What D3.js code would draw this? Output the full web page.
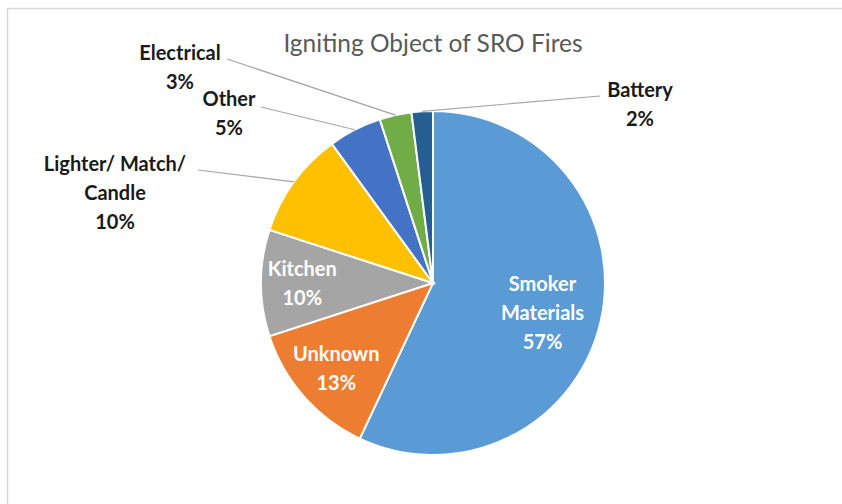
<!DOCTYPE html>
<html>
<head>
<meta charset="utf-8">
<script src="https://cdn.jsdelivr.net/npm/d3@7"></script>
<style>
  body { margin: 0; background: #fff; }
  text { font-family: Lato, "Open Sans", sans-serif; }
</style>
</head>
<body>
<script>
// chart data, in drawing order (clockwise from 12 o'clock)
var categories = ["Smoker Materials", "Unknown", "Kitchen", "Lighter/ Match/ Candle", "Other", "Electrical", "Battery"];
var values = [57, 13, 10, 10, 5, 3, 2];
var colors = ["#5b9bd5", "#ed7d31", "#a5a5a5", "#ffc000", "#4472c4", "#70ad47", "#255e91"];
// how each label is split into lines
var labelLines = [["Smoker", "Materials"], ["Unknown"], ["Kitchen"], ["Lighter/ Match/", "Candle"], ["Other"], ["Electrical"], ["Battery"]];

var width = 842, height = 504,
    cx = 433, cy = 283, radius = 172;

var svg = d3.select("body").append("svg").attr("width", width).attr("height", height);

// frame
svg.append("path")
   .attr("d", "M7.5," + height + "V8.5H" + width)
   .attr("fill", "none").attr("stroke", "#d9d9d9").attr("stroke-width", 1.5);

svg.append("text")
   .attr("x", cx).attr("y", 52)
   .attr("text-anchor", "middle")
   .attr("font-size", 24.5)
   .attr("fill", "#595959")
   .text("Igniting Object of SRO Fires");

var pie = d3.pie().sort(null).value(function (d) { return d; });
var arcs = pie(values);

var arc = d3.arc().innerRadius(0).outerRadius(radius);
var edgeArc = d3.arc().innerRadius(radius).outerRadius(radius);

var g = svg.append("g").attr("transform", "translate(" + cx + "," + cy + ")");

g.selectAll("path.slice")
  .data(arcs)
  .enter()
  .append("path")
  .attr("class", "slice")
  .attr("d", arc)
  .attr("fill", function (d, i) { return colors[i]; })
  .attr("stroke", "#fff")
  .attr("stroke-width", 2);

// label placement: inside labels sit on a ratio of the radius, outside ones are dragged out like in Excel
var placement = [
  { inside: true, r: 0.7, dx: -8, dy: 4 },
  { inside: true, r: 0.75, dx: 0, dy: 0 },
  { inside: true, r: 0.76, dx: 0, dy: 0 },
  { x: 115, y: 164, lx: 198, ly: 170 },
  { x: 229, y: 99, lx: 261, ly: 107 },
  { x: 180, y: 53, lx: 227, ly: 59 },
  { x: 640, y: 90, lx: 600, ly: 96 }
];
var lineH = 29;

arcs.forEach(function (d, i) {
  var p = placement[i];
  var lines = labelLines[i].concat([values[i] + "%"]);
  var x, y, fill;
  if (p.inside) {
    var c = d3.arc().innerRadius(radius * p.r).outerRadius(radius * p.r).centroid(d);
    x = cx + c[0] + p.dx;
    y = cy + c[1] + p.dy - (lines.length - 1) * lineH / 2;
    fill = "#fff";
  } else {
    x = p.x; y = p.y; fill = "#1a1a1a";
    var e = edgeArc.centroid(d);
    svg.append("line")
       .attr("x1", p.lx).attr("y1", p.ly)
       .attr("x2", cx + e[0]).attr("y2", cy + e[1])
       .attr("stroke", "#a6a6a6").attr("stroke-width", 1.2);
  }
  var t = svg.append("text")
     .attr("text-anchor", "middle")
     .attr("font-size", 20)
     .attr("font-weight", "bold")
     .attr("fill", fill);
  lines.forEach(function (s, k) {
    t.append("tspan")
     .attr("x", x)
     .attr("y", y + k * lineH)
     .attr("dy", "0.35em")
     .text(s);
  });
});
</script>
</body>
</html>
